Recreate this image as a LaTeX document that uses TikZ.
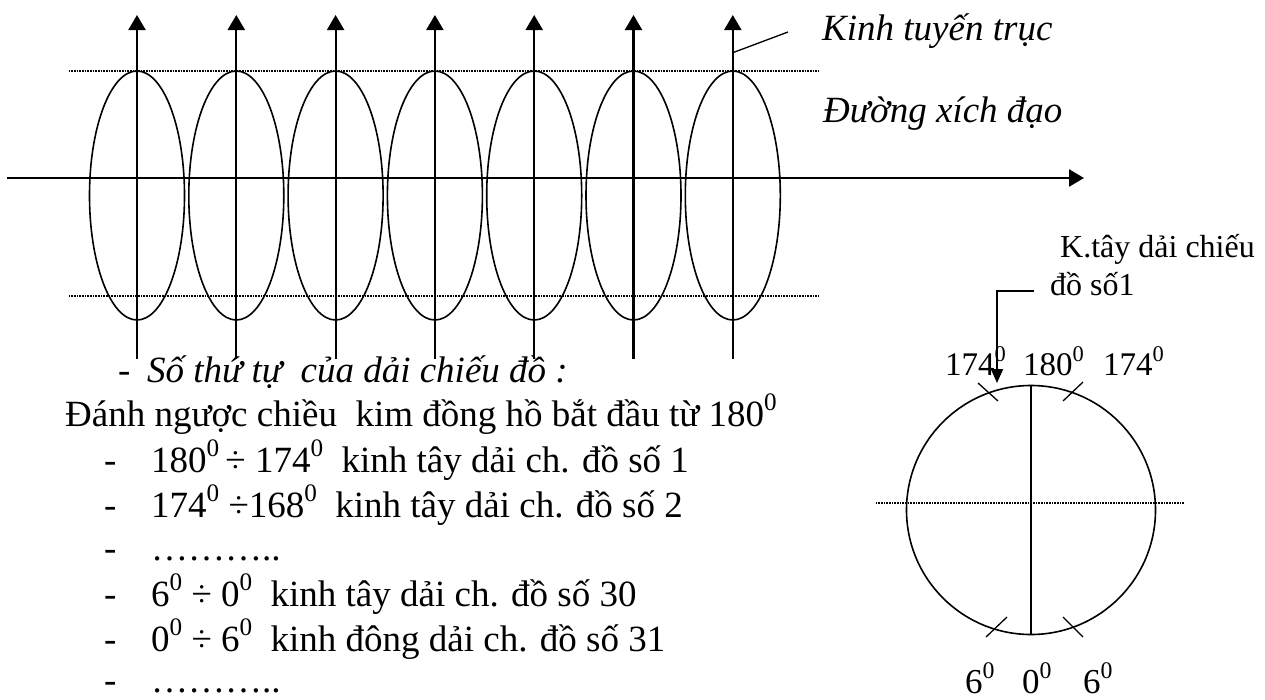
\documentclass[tikz,border=0pt]{standalone}
\usepackage{fontspec}
\setmainfont{Liberation Serif}
\usepackage{graphicx}
\usetikzlibrary{arrows.meta}
\newcommand{\sO}{\raisebox{0.42em}{\scalebox{0.68}{0}}}
\begin{document}
\begin{tikzpicture}[x=1pt,y=-1pt,
  arr/.style={line width=2.2pt,-{Triangle[width=17pt,length=15pt]}},
  ell/.style={line width=1.6pt},
  dots/.style={line width=1.4pt,dash pattern=on 0.8pt off 0.8pt},
  thinl/.style={line width=1.3pt},
  lbl/.style={inner sep=0pt,anchor=base west,font=\fontsize{37}{44}\selectfont},
  ilbl/.style={inner sep=0pt,anchor=base west,font=\fontsize{37}{44}\selectfont\itshape},
  slbl/.style={inner sep=0pt,anchor=base west,font=\fontsize{33}{40}\selectfont},
  blbl/.style={inner sep=0pt,anchor=base west,font=\fontsize{35}{42}\selectfont},
  klbl/.style={inner sep=0pt,anchor=base west,font=\fontsize{32}{38}\selectfont}]
\useasboundingbox (0,0) rectangle (1265,699);

% dotted parallels
\coordinate (u1) at (69,71); \coordinate (u2) at (819,71);
\coordinate (l1) at (69,296); \coordinate (l2) at (819,296);
\draw[dots] (u1) -- (u2);
\draw[dots] (l1) -- (l2);

% zones (ellipses) and central meridians
\foreach \i in {0,...,6} {
  \pgfmathsetmacro\cx{137+99.3*\i}
  \draw[ell] (\cx,195.5) ellipse [x radius=47.5, y radius=124.5];
  \coordinate (b\i) at (\cx,359);
  \coordinate (t\i) at (\cx,15);
  \draw[arr] (b\i) -- (t\i);
}

% equator axis
\coordinate (a1) at (7,178); \coordinate (a2) at (1084,178);
\draw[arr,line width=2.5pt] (a1) -- (a2);

% labels top right
\node[ilbl] (kt) at (822,40) {Kinh tuyến trục};
\coordinate (kp) at (732,53); \coordinate (ke) at (788,32);
\draw[thinl] (kp) -- (ke);
\node[ilbl] (xd) at (823,122) {Đường xích đạo};

% circle diagram
\node[circle,draw,line width=1.6pt,minimum size=249pt,inner sep=0pt] (C) at (1031,510) {};
\draw[thinl] (C.north) -- (C.south);
\coordinate (h1) at (876,503); \coordinate (h2) at (1184,503);
\draw[dots] (h1) -- (h2);
\coordinate (tl1) at (978,383); \coordinate (tl2) at (998,401);
\coordinate (tr1) at (1083,382); \coordinate (tr2) at (1063,401);
\coordinate (bl1) at (1007,617); \coordinate (bl2) at (986,637);
\coordinate (br1) at (1063,617); \coordinate (br2) at (1083,637);
\draw[thinl] (tl1) -- (tl2);
\draw[thinl] (tr1) -- (tr2);
\draw[thinl] (bl1) -- (bl2);
\draw[thinl] (br1) -- (br2);

\node[slbl] (n174a) at (945,375) {174\sO};
\node[slbl] (n180) at (1023,375) {180\sO};
\node[slbl] (n174b) at (1103,375) {174\sO};
\node[blbl] (n6a) at (965,693) {6\sO};
\node[blbl] (n0) at (1022,693) {0\sO};
\node[blbl] (n6b) at (1083,693) {6\sO};

\node[klbl] (k1) at (1060,257) {K.tây dải chiếu};
\node[klbl] (k2) at (1050,295) {đồ số1};
\coordinate (q1) at (1034,291); \coordinate (q2) at (997,291); \coordinate (q3) at (997,383);
\draw[line width=2pt,-{Triangle[width=12pt,length=14pt]}] (q1) -- (q2) -- (q3);

% text block
\node[lbl] (d0) at (118,382) {-};
\node[ilbl] (h0) at (147,382) {Số thứ tự\ \ của dải chiếu đồ :};
\node[lbl] (p0) at (65,426) {Đánh ngược chiều\ \ kim đồng hồ bắt đầu từ 180\sO};
\node[lbl] (d1) at (104,472) {-};
\node[lbl] (s1) at (151,472) {180\sO\,÷ 174\sO\ \ kinh tây dải ch. đồ số 1};
\node[lbl] (d2) at (104,517) {-};
\node[lbl] (s2) at (151,517) {174\sO\ ÷168\sO\ \ kinh tây dải ch. đồ số 2};
\node[lbl] (d3) at (104,560) {-};
\node[lbl] (s3) at (151,560) {………..};
\node[lbl] (d4) at (104,606) {-};
\node[lbl] (s4) at (151,606) {6\sO\ ÷ 0\sO\ \ kinh tây dải ch. đồ số 30};
\node[lbl] (d5) at (104,651) {-};
\node[lbl] (s5) at (151,651) {0\sO\ ÷ 6\sO\ \ kinh đông dải ch. đồ số 31};
\node[lbl] (d6) at (104,692) {-};
\node[lbl] (s6) at (151,692) {………..};
\end{tikzpicture}
\end{document}
